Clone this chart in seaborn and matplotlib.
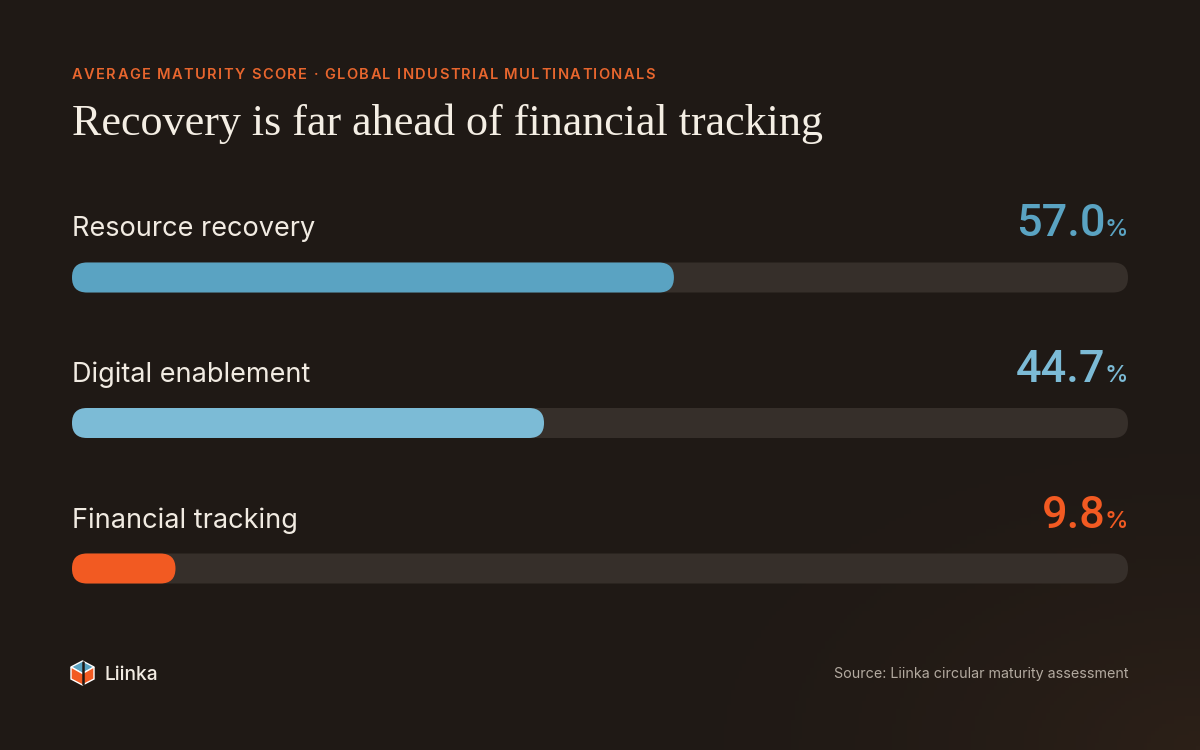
import matplotlib
matplotlib.use("Agg")
import matplotlib.pyplot as plt
import numpy as np
import pandas as pd
import seaborn as sns
from matplotlib.patches import FancyBboxPatch, Polygon
from matplotlib.colors import LinearSegmentedColormap
from matplotlib.font_manager import FontProperties, findfont
from matplotlib.ft2font import FT2Font

# --- data ---------------------------------------------------------------
categories = ["Resource recovery", "Digital enablement", "Financial tracking"]
scores = [57.0, 44.7, 9.8]
track_max = [100, 100, 100]
bar_colors = ["#5aa3c2", "#7cbbd6", "#f25a22"]

kicker = "AVERAGE MATURITY SCORE \u00b7 GLOBAL INDUSTRIAL MULTINATIONALS"
title = "Recovery is far ahead of financial tracking"
source = "Source: Liinka circular maturity assessment"
brand = "Liinka"

BG = "#1f1915"
TRACK = "#362f2a"
TEXT = "#f1ebe2"

sns.set_theme(style="white")
plt.rcParams["font.family"] = ["Inter", "DejaVu Sans"]

W, H = 1200, 750
fig = plt.figure(figsize=(W / 100, H / 100), dpi=100)
fig.patch.set_facecolor(BG)
renderer = fig.canvas.get_renderer()


def tracked(x, y, s, size, tracking, weight="normal", color="white"):
    """Letter-spaced text starting at display pixel x, baseline y."""
    f = FT2Font(findfont(FontProperties(family="Inter", weight=weight)))
    f.set_size(size, 100)
    pos = x
    for c in s:
        if c != " ":
            fig.text(pos / W, y / H, c, ha="left", va="baseline", fontsize=size,
                     fontweight=weight, color=color)
        pos += f.load_char(ord(c)).linearHoriAdvance / 65536 + tracking


# subtle warm glow, bottom right
bg = fig.add_axes([0, 0, 1, 1], zorder=-10)
yy, xx = np.mgrid[0:1:200j, 0:1:320j]
glow = np.clip(1 - np.hypot(1 - xx, yy) / 0.55, 0, 1) ** 2
cmap = LinearSegmentedColormap.from_list("bg", [BG, "#2c2018"])
bg.imshow(glow, cmap=cmap, aspect="auto", extent=[0, 1, 0, 1], origin="lower")
bg.axis("off")

# bar area: x 0..100 over 1056px, one row per 145.5px
ax = fig.add_axes([72 / W, 1 - 641.25 / H, 1056 / W, 436.5 / H])
ax.set_facecolor("none")

df = pd.DataFrame({"category": categories, "score": scores, "track": track_max})
bar_h = 30 / 145.5
sns.barplot(data=df, y="category", x="track", color=TRACK, width=bar_h,
            saturation=1, ax=ax)
sns.barplot(data=df, y="category", x="score", hue="category", palette=bar_colors,
            width=bar_h, dodge=False, legend=False, saturation=1, ax=ax)
ax.set_xlim(0, 100)
ax.set_ylim(2.5, -0.5)
ax.axis("off")

# swap square bars for pill shapes
x_per_px = 100 / 1056
y_per_px = 1 / 145.5
radius = 15 * x_per_px
for p in list(ax.patches):
    x0, y0, w, h = p.get_x(), p.get_y(), p.get_width(), p.get_height()
    if w <= 0:
        continue
    pill = FancyBboxPatch((x0, y0), w, h,
                          boxstyle=f"round,pad=0,rounding_size={radius}",
                          mutation_aspect=y_per_px / x_per_px,
                          facecolor=p.get_facecolor(), edgecolor="none",
                          zorder=p.get_zorder())
    p.remove()
    ax.add_patch(pill)

# labels and values above each bar
base_off = -41 * y_per_px
for i, (cat, val, col) in enumerate(zip(categories, scores, bar_colors)):
    ax.text(0, i + base_off, cat, ha="left", va="baseline",
            fontsize=19.5, color=TEXT, clip_on=False)
    pct = ax.text(100, i + base_off, "%", ha="right", va="baseline",
                  fontsize=17, fontweight="medium", color=col, clip_on=False)
    pw = pct.get_window_extent(renderer).width * x_per_px
    ax.text(100 - pw + 0.1, i + base_off, f"{val:.1f}", ha="right", va="baseline",
            fontsize=32.5, fontweight="medium", color=col, clip_on=False,
            family=["Roboto", "DejaVu Sans"])

# header
tracked(72, H - 79, kicker, 10.5, 1.42, weight="semibold", color="#e8662e")
fig.text(72 / W, 1 - 135 / H, title, ha="left", va="baseline",
         fontsize=31.8, color="#f4eee4", family=["Liberation Serif", "DejaVu Serif"])

# footer
fig.text(1128 / W, 1 - 678 / H, source, ha="right", va="baseline",
         fontsize=10.3, color="#b3aaa0")
fig.text(104 / W, 1 - 680 / H, brand, ha="left", va="baseline",
         fontsize=13.8, color=TEXT, fontweight="medium")


# logo: little isometric cube, blue top / orange sides
def px(x, y):
    return (x / W, 1 - y / H)


cx, top, bot = 82.5, 661, 685
hw = 11.5
blue = Polygon([px(cx - hw, 667), px(cx, top), px(cx + hw, 667), px(cx, 673.5)],
               closed=True, transform=fig.transFigure, facecolor="#5aa3c2")
orange = Polygon([px(cx - hw, 667), px(cx, 673.5), px(cx + hw, 667),
                  px(cx + hw, 679), px(cx, bot), px(cx - hw, 679)],
                 closed=True, transform=fig.transFigure, facecolor="#f25a22")
fig.patches.extend([blue, orange])
fig.lines.append(plt.Line2D([cx / W, cx / W], [1 - 662 / H, 1 - 684 / H],
                            transform=fig.transFigure, color=BG, lw=1.8))

fig.savefig("out.png", dpi=100, facecolor=BG)
